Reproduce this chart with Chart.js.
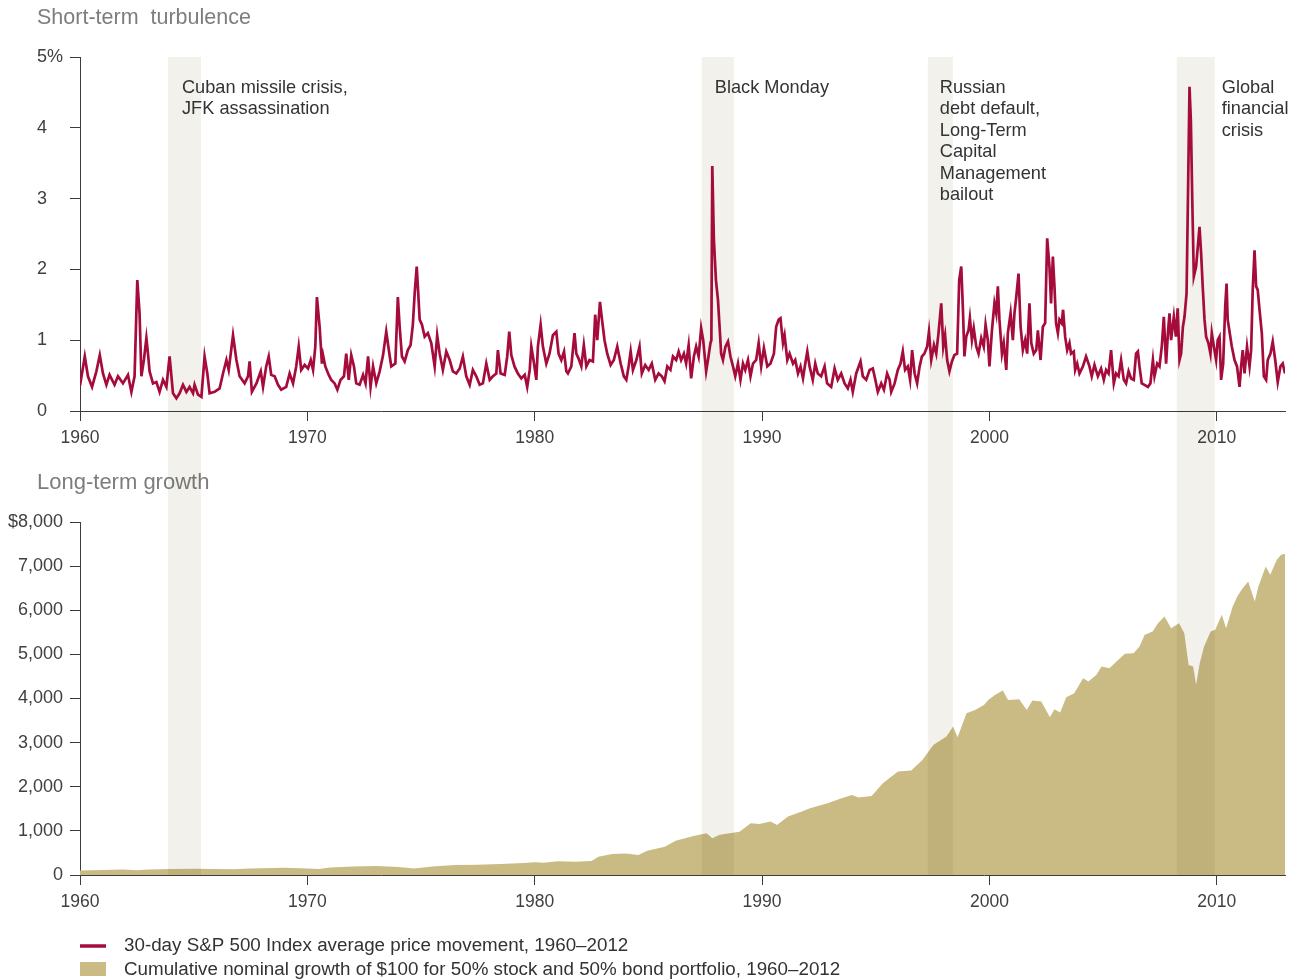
<!DOCTYPE html>
<html>
<head>
<meta charset="utf-8">
<script src="https://cdn.jsdelivr.net/npm/chart.js@4.4.1/dist/chart.umd.min.js"></script>
<style>
  html, body { margin: 0; padding: 0; background: #ffffff; }
  #wrap { position: relative; width: 1291px; height: 979px; }
  canvas { position: absolute; left: 0; }
  #topChart { top: 0; }
  #bottomChart { top: 470px; }
</style>
</head>
<body>
<div id="wrap">
  <canvas id="topChart" width="1291" height="470"></canvas>
  <canvas id="bottomChart" width="1291" height="509"></canvas>
</div>
<script>
// ─────────────────────────────────────────
// DATA
// ─────────────────────────────────────────

const xTickYears = [1960, 1970, 1980, 1990, 2000, 2010];
const turbTicks  = [0, 1, 2, 3, 4, 5];
const growthTicks = [0, 1000, 2000, 3000, 4000, 5000, 6000, 7000, 8000];

// crisis bands (start / end year) and their notes
const eventStart  = [1963.87, 1987.35, 1997.29, 2008.24];
const eventEnd    = [1965.32, 1988.76, 1998.39, 2009.91];
const eventLabels = [
  ["Cuban missile crisis,", "JFK assassination"],
  ["Black Monday"],
  ["Russian", "debt default,", "Long-Term", "Capital", "Management", "bailout"],
  ["Global", "financial", "crisis"]
];

const legendLabels = [
  "30-day S&P 500 Index average price movement, 1960–2012",
  "Cumulative nominal growth of $100 for 50% stock and 50% bond portfolio, 1960–2012"
];

// 30-day S&P 500 average price movement (%)
const turbYears = [
  1960.00, 1960.21, 1960.35, 1960.53, 1960.72, 1960.87, 1961.01, 1961.16, 1961.30, 1961.52,
  1961.67, 1961.89, 1962.11, 1962.26, 1962.40, 1962.52, 1962.62, 1962.70, 1962.81, 1962.92,
  1962.99, 1963.06, 1963.21, 1963.36, 1963.50, 1963.65, 1963.80, 1963.94, 1964.09, 1964.24,
  1964.38, 1964.53, 1964.68, 1964.82, 1964.97, 1965.04, 1965.19, 1965.34, 1965.48, 1965.60,
  1965.70, 1965.92, 1966.14, 1966.29, 1966.44, 1966.54, 1966.63, 1966.73, 1966.88, 1967.02,
  1967.24, 1967.39, 1967.46, 1967.56, 1967.76, 1967.95, 1968.05, 1968.19, 1968.30, 1968.41,
  1968.56, 1968.71, 1968.85, 1969.07, 1969.22, 1969.37, 1969.51, 1969.62, 1969.73, 1969.88,
  1970.03, 1970.15, 1970.25, 1970.35, 1970.42, 1970.54, 1970.64,
  1970.69, 1970.79, 1970.94, 1971.05, 1971.20, 1971.32, 1971.46, 1971.61, 1971.71, 1971.82,
  1971.93, 1972.05, 1972.15, 1972.30, 1972.45, 1972.56, 1972.67, 1972.78, 1972.89, 1973.03,
  1973.18, 1973.33, 1973.47, 1973.57, 1973.69, 1973.87, 1973.98, 1974.06, 1974.16, 1974.28,
  1974.42, 1974.54, 1974.64, 1974.72, 1974.81, 1974.86, 1974.94, 1975.04, 1975.16, 1975.30,
  1975.45, 1975.60, 1975.71, 1975.82, 1975.96, 1976.11, 1976.26, 1976.40, 1976.55, 1976.70,
  1976.84, 1976.99, 1977.14, 1977.28, 1977.43, 1977.58, 1977.72, 1977.87, 1978.02, 1978.16,
  1978.31, 1978.38, 1978.50, 1978.68, 1978.79, 1978.88, 1978.97, 1979.11, 1979.26, 1979.41,
  1979.56, 1979.67, 1979.78, 1979.85, 1979.97, 1980.07, 1980.14, 1980.26, 1980.36, 1980.51,
  1980.65, 1980.80, 1980.95, 1981.05, 1981.17, 1981.29, 1981.39,
  1981.46, 1981.61, 1981.75, 1981.83, 1981.93, 1982.05, 1982.16, 1982.27, 1982.41, 1982.56,
  1982.66, 1982.75, 1982.87, 1982.96, 1983.07, 1983.19, 1983.34, 1983.48, 1983.63, 1983.78,
  1983.92, 1984.03, 1984.13, 1984.22, 1984.32, 1984.47, 1984.61, 1984.71, 1984.86, 1985.01,
  1985.15, 1985.30, 1985.45, 1985.59, 1985.71, 1985.83, 1985.97, 1986.08, 1986.22, 1986.33,
  1986.44, 1986.56, 1986.66, 1986.77, 1986.88, 1987.00, 1987.10, 1987.21, 1987.32, 1987.41,
  1987.54, 1987.62, 1987.73, 1987.77, 1987.81, 1987.88, 1987.97, 1988.06, 1988.14, 1988.20,
  1988.28, 1988.39, 1988.50, 1988.61, 1988.72, 1988.82, 1988.94, 1989.05, 1989.16, 1989.26,
  1989.38, 1989.49, 1989.60, 1989.74, 1989.85, 1989.96, 1990.08, 1990.23, 1990.37, 1990.52,
  1990.62, 1990.73, 1990.81, 1990.92, 1990.99, 1991.11, 1991.21, 1991.36, 1991.46, 1991.58,
  1991.69, 1991.80, 1991.90, 1991.99,
  1992.09, 1992.23, 1992.34, 1992.45, 1992.60, 1992.75, 1992.86, 1993.04, 1993.19, 1993.33,
  1993.48, 1993.63, 1993.77, 1993.89, 1993.99, 1994.14, 1994.33, 1994.43, 1994.58, 1994.73,
  1994.87, 1994.97, 1995.09, 1995.24, 1995.36, 1995.50, 1995.61, 1995.68, 1995.83, 1995.97,
  1996.09, 1996.19, 1996.29, 1996.41, 1996.51, 1996.60, 1996.71, 1996.82, 1996.93, 1997.03,
  1997.14, 1997.26, 1997.34, 1997.44, 1997.56, 1997.66, 1997.76, 1997.88, 1997.97, 1998.05,
  1998.14, 1998.24, 1998.35, 1998.46, 1998.58, 1998.67, 1998.76, 1998.83, 1998.90, 1998.98,
  1999.08, 1999.14, 1999.23, 1999.31, 1999.42, 1999.52, 1999.64, 1999.75, 1999.83, 1999.93,
  2000.00, 2000.11, 2000.22, 2000.30, 2000.37, 2000.44, 2000.55, 2000.63, 2000.74, 2000.81,
  2000.93, 2001.03, 2001.10, 2001.18, 2001.28, 2001.37, 2001.47, 2001.57, 2001.66, 2001.76,
  2001.84, 2001.95, 2002.06, 2002.13, 2002.25, 2002.35, 2002.45, 2002.54,
  2002.64, 2002.71, 2002.79, 2002.86, 2002.93, 2003.01, 2003.08, 2003.18, 2003.24, 2003.33,
  2003.42, 2003.52, 2003.59, 2003.71, 2003.77, 2003.86, 2003.96, 2004.11, 2004.25, 2004.40,
  2004.50, 2004.62, 2004.77, 2004.91, 2005.03, 2005.13, 2005.24, 2005.35, 2005.47, 2005.57,
  2005.68, 2005.79, 2005.91, 2006.01, 2006.12, 2006.23, 2006.35, 2006.45, 2006.53, 2006.60,
  2006.70, 2006.82, 2006.97, 2007.08, 2007.19, 2007.26, 2007.38, 2007.48, 2007.58, 2007.67,
  2007.77, 2007.85, 2007.92, 2007.99, 2008.11, 2008.20, 2008.28, 2008.36, 2008.43, 2008.51,
  2008.58, 2008.67, 2008.74, 2008.80, 2008.86, 2008.92, 2008.99, 2009.09, 2009.24, 2009.31,
  2009.38, 2009.46, 2009.53, 2009.63, 2009.72, 2009.78, 2009.87, 2009.97, 2010.04, 2010.12,
  2010.19, 2010.28, 2010.37, 2010.43, 2010.48, 2010.57, 2010.66, 2010.78, 2010.89, 2011.00,
  2011.07, 2011.14, 2011.22, 2011.33, 2011.44, 2011.51, 2011.58, 2011.66, 2011.73, 2011.80,
  2011.88, 2011.98, 2012.07, 2012.17, 2012.24, 2012.36, 2012.46, 2012.57, 2012.68, 2012.80,
  2012.90, 2013.00
];
const turbValues = [
  0.36, 0.77, 0.49, 0.34, 0.56, 0.79, 0.53, 0.37, 0.51, 0.37,
  0.49, 0.39, 0.51, 0.27, 0.49, 1.85, 1.38, 0.49, 0.72, 1.03,
  0.81, 0.56, 0.39, 0.41, 0.27, 0.44, 0.34, 0.77, 0.25, 0.18,
  0.25, 0.37, 0.27, 0.34, 0.25, 0.37, 0.23, 0.20, 0.77, 0.53,
  0.25, 0.27, 0.32, 0.53, 0.72, 0.58, 0.81, 1.07, 0.72, 0.49,
  0.39, 0.49, 0.70, 0.27, 0.39, 0.56, 0.34, 0.63, 0.77, 0.51,
  0.49, 0.37, 0.30, 0.34, 0.53, 0.39, 0.63, 0.91, 0.58, 0.65,
  0.60, 0.72, 0.58, 0.91, 1.61, 1.19, 0.67,
  0.79, 0.63, 0.51, 0.44, 0.39, 0.30, 0.44, 0.49, 0.81, 0.44,
  0.79, 0.63, 0.39, 0.37, 0.51, 0.39, 0.77, 0.34, 0.63, 0.39,
  0.56, 0.79, 1.12, 0.89, 0.63, 0.67, 1.61, 1.19, 0.77, 0.70,
  0.86, 0.93, 1.22, 1.66, 2.04, 1.76, 1.29, 1.22, 1.05, 1.10,
  0.96, 0.63, 1.07, 0.81, 0.58, 0.84, 0.72, 0.56, 0.53, 0.60,
  0.77, 0.49, 0.37, 0.58, 0.49, 0.37, 0.39, 0.67, 0.44, 0.49,
  0.53, 0.86, 0.53, 0.51, 0.77, 1.12, 0.79, 0.63, 0.53, 0.46,
  0.51, 0.34, 0.58, 0.91, 0.67, 0.44, 0.91, 1.22, 0.91, 0.67,
  0.81, 1.07, 1.12, 0.81, 0.72, 0.84, 0.56,
  0.53, 0.63, 1.10, 0.81, 0.74, 0.63, 0.93, 0.63, 0.72, 0.70,
  1.36, 1.00, 1.54, 1.29, 1.00, 0.81, 0.65, 0.72, 0.91, 0.67,
  0.49, 0.44, 0.63, 0.84, 0.58, 0.72, 0.91, 0.53, 0.65, 0.58,
  0.67, 0.44, 0.53, 0.49, 0.42, 0.63, 0.58, 0.77, 0.72, 0.84,
  0.72, 0.81, 0.67, 0.93, 0.46, 0.77, 0.91, 0.77, 1.17, 1.00,
  0.56, 0.72, 0.96, 1.00, 3.46, 2.42, 1.85, 1.57, 1.14, 0.81,
  0.72, 0.91, 0.98, 0.77, 0.63, 0.49, 0.67, 0.44, 0.67, 0.58,
  0.72, 0.49, 0.67, 0.72, 0.96, 0.63, 0.89, 0.63, 0.67, 0.81,
  1.19, 1.29, 1.31, 0.96, 1.07, 0.72, 0.81, 0.67, 0.72, 0.53,
  0.63, 0.46, 0.67, 0.84,
  0.63, 0.44, 0.67, 0.53, 0.49, 0.63, 0.39, 0.34, 0.60, 0.44,
  0.53, 0.39, 0.32, 0.44, 0.27, 0.53, 0.70, 0.49, 0.44, 0.58,
  0.60, 0.46, 0.27, 0.39, 0.30, 0.53, 0.44, 0.27, 0.39, 0.58,
  0.67, 0.84, 0.58, 0.63, 0.44, 0.86, 0.53, 0.39, 0.63, 0.77,
  0.81, 0.91, 1.12, 0.72, 0.93, 0.81, 1.10, 1.52, 0.91, 1.07,
  0.72, 0.56, 0.70, 0.79, 0.81, 1.85, 2.04, 1.47, 0.77, 1.05,
  1.14, 1.31, 1.00, 1.17, 0.91, 0.81, 1.03, 0.91, 1.22, 1.00,
  0.63, 1.14, 1.52, 1.38, 1.76, 1.29, 0.81, 0.96, 0.58, 1.10,
  1.38, 1.00, 1.38, 1.61, 1.94, 1.19, 0.86, 1.00, 0.81, 1.52,
  0.96, 0.81, 0.86, 1.14, 0.72, 1.19, 1.24, 2.44,
  2.04, 1.52, 2.18, 1.76, 1.24, 1.10, 1.29, 1.24, 1.43, 1.05,
  0.86, 0.96, 0.81, 0.84, 0.58, 0.67, 0.53, 0.63, 0.77, 0.63,
  0.49, 0.65, 0.49, 0.60, 0.44, 0.58, 0.53, 0.86, 0.39, 0.53,
  0.49, 0.72, 0.44, 0.39, 0.56, 0.46, 0.44, 0.81, 0.84, 0.63,
  0.39, 0.37, 0.34, 0.39, 0.72, 0.49, 0.67, 0.63, 0.91, 1.33,
  0.67, 1.10, 1.38, 1.00, 1.33, 1.05, 1.45, 0.72, 0.81, 1.19,
  1.33, 1.66, 3.20, 4.58, 4.10, 3.00, 1.90, 2.04, 2.60, 2.23,
  1.76, 1.29, 1.05, 0.96, 0.81, 1.10, 0.91, 0.72, 1.00, 1.05,
  0.44, 0.67, 1.47, 1.80, 1.29, 1.10, 0.91, 0.72, 0.63, 0.34,
  0.63, 0.86, 0.53, 0.91, 0.63, 0.86, 1.71, 2.27, 1.76, 1.71,
  1.43, 1.10, 0.49, 0.44, 0.72, 0.81, 0.98, 0.72, 0.41, 0.63,
  0.67, 0.53
];

// cumulative growth of $100, 50/50 portfolio ($)
const growthYears = [
  1960.0, 1961.0, 1961.9, 1962.5, 1963.0, 1964.0, 1965.0, 1966.0, 1966.7, 1967.5,
  1968.5, 1969.0, 1970.0, 1970.5, 1971.0, 1972.0, 1973.0, 1974.0, 1974.7, 1975.5,
  1976.5, 1977.5, 1978.5, 1979.5, 1980.0, 1980.4, 1981.0, 1981.8, 1982.5, 1982.8,
  1983.4, 1984.0, 1984.56, 1984.95, 1985.72, 1986.2, 1986.98, 1987.56, 1987.81, 1988.14,
  1989.01, 1989.5, 1989.88, 1990.37, 1990.66, 1991.14, 1991.72, 1992.11, 1992.88, 1993.37,
  1993.95, 1994.24, 1994.82, 1995.31, 1995.98, 1996.56, 1997.05, 1997.53, 1998.11, 1998.40,
  1998.60, 1998.99, 1999.37, 1999.76, 1999.95, 2000.24, 2000.59, 2000.82, 2001.31, 2001.64,
  2001.89, 2002.28, 2002.66, 2002.86, 2003.11, 2003.38, 2003.73, 2004.12, 2004.35, 2004.70,
  2004.93, 2005.28, 2005.67, 2005.96, 2006.34, 2006.60, 2006.83, 2007.18, 2007.41, 2007.70,
  2007.99, 2008.34, 2008.57, 2008.76, 2008.96, 2009.09, 2009.25, 2009.44, 2009.73, 2009.93,
  2010.22, 2010.41, 2010.70, 2010.90, 2011.09, 2011.38, 2011.67, 2011.83, 2012.15, 2012.35,
  2012.64, 2012.83, 2013.00
];
const growthValues = [
  100, 112, 125, 108, 122, 135, 142, 135, 128, 148,
  158, 162, 145, 138, 168, 190, 205, 180, 150, 195,
  225, 235, 250, 270, 290, 275, 310, 300, 320, 415,
  476, 490, 454, 551, 642, 778, 884, 945, 832, 915,
  983, 1172, 1157, 1210, 1134, 1323, 1436, 1512, 1625, 1716,
  1814, 1754, 1792, 2079, 2343, 2366, 2608, 2948, 3137, 3364,
  3122, 3666, 3742, 3855, 3968, 4082, 4180, 3968, 3983, 3742,
  3953, 3930, 3575, 3757, 3681, 4029, 4120, 4460, 4384, 4535,
  4724, 4687, 4876, 5012, 5027, 5178, 5443, 5518, 5707, 5858,
  5594, 5707, 5480, 4762, 4724, 4309, 4800, 5178, 5518, 5556,
  5896, 5594, 6085, 6311, 6462, 6651, 6198, 6538, 6992, 6803,
  7143, 7256, 7280
];

// ─────────────────────────────────────────
// STYLE
// ─────────────────────────────────────────

const FONT      = "'Liberation Sans', Arial, sans-serif";
const RED       = "#A50B3B";
const TAN       = "#C9BB83";
const BAND      = "#F2F1EC";
const AXIS      = "#3c3c3c";
const TICK_TEXT = "#404040";
const TITLE     = "#7d7d7d";

// where each note sits next to its band: [edge, px offset]
const labelAnchor = [["start", 14], ["start", 13], ["start", 12], ["end", 7]];

Chart.defaults.font.family = FONT;
Chart.defaults.animation = false;

function paintBands(chart, fromCanvasTop, toCanvasBottom) {
  const { ctx, chartArea, scales: { x } } = chart;
  const top    = fromCanvasTop ? 0 : chartArea.top;
  const bottom = toCanvasBottom ? chart.height : chartArea.bottom;
  ctx.save();
  ctx.globalCompositeOperation = "multiply";
  ctx.fillStyle = BAND;
  eventStart.forEach((s, i) => {
    const x0 = x.getPixelForValue(s);
    const x1 = x.getPixelForValue(eventEnd[i]);
    ctx.fillRect(x0, top, x1 - x0, bottom - top);
  });
  ctx.restore();
}

function xAxis() {
  return {
    type: "linear",
    min: 1960,
    max: 2013,
    afterBuildTicks: s => { s.ticks = xTickYears.map(v => ({ value: v })); },
    afterFit: s => { s.height = 40; },
    border: { color: AXIS, width: 1 },
    grid: { drawOnChartArea: false, drawTicks: true, tickLength: 10, color: AXIS },
    ticks: { color: TICK_TEXT, font: { size: 17.5 }, padding: 7, maxRotation: 0,
             callback: v => String(v) }
  };
}

// ─────────────────────────────────────────
// SHORT-TERM TURBULENCE
// ─────────────────────────────────────────

new Chart(document.getElementById("topChart"), {
  type: "line",
  data: {
    datasets: [{
      label: legendLabels[0],
      data: turbYears.map((yr, i) => ({ x: yr, y: turbValues[i] })),
      borderColor: RED,
      borderWidth: 2.7,
      pointRadius: 0,
      tension: 0,
      fill: false
    }]
  },
  options: {
    responsive: false,
    devicePixelRatio: 1,
    layout: { padding: { top: 57, right: 6, left: 37, bottom: 19 } },
    plugins: { legend: { display: false }, tooltip: { enabled: false } },
    scales: {
      x: xAxis(),
      y: {
        min: 0, max: 5,
        afterBuildTicks: s => { s.ticks = turbTicks.map(v => ({ value: v })); },
        afterFit: s => { s.width = 43; },
        border: { color: AXIS, width: 1 },
        grid: { drawOnChartArea: false, drawTicks: true, tickLength: 10, color: AXIS },
        ticks: { color: TICK_TEXT, font: { size: 18 }, crossAlign: "far",
                 callback: v => v === 5 ? "5%" : String(v) }
      }
    }
  },
  plugins: [{
    id: "topDecor",
    beforeDatasetsDraw(chart) { paintBands(chart, false, true); },
    afterDraw(chart) {
      const { ctx, scales: { x } } = chart;
      ctx.save();
      ctx.textBaseline = "middle";
      ctx.textAlign = "left";
      ctx.fillStyle = TITLE;
      ctx.font = "21.5px " + FONT;
      ctx.fillText("Short-term  turbulence", 37, 18);

      ctx.fillStyle = "#333333";
      ctx.font = "18.2px " + FONT;
      eventLabels.forEach((lines, i) => {
        const [edge, dx] = labelAnchor[i];
        const bx = x.getPixelForValue(edge === "start" ? eventStart[i] : eventEnd[i]) + dx;
        lines.forEach((t, j) => ctx.fillText(t, bx, 87.5 + j * 21.5));
      });
      ctx.restore();
    }
  }]
});

// ─────────────────────────────────────────
// LONG-TERM GROWTH
// ─────────────────────────────────────────

new Chart(document.getElementById("bottomChart"), {
  type: "line",
  data: {
    datasets: [{
      label: legendLabels[1],
      data: growthYears.map((yr, i) => ({ x: yr, y: growthValues[i] })),
      borderWidth: 0,
      borderColor: TAN,
      backgroundColor: TAN,
      pointRadius: 0,
      tension: 0,
      fill: "origin"
    }]
  },
  options: {
    responsive: false,
    devicePixelRatio: 1,
    layout: { padding: { top: 52, right: 6, left: 0, bottom: 64 } },
    plugins: { legend: { display: false }, tooltip: { enabled: false } },
    scales: {
      x: xAxis(),
      y: {
        min: 0, max: 8000,
        afterBuildTicks: s => { s.ticks = growthTicks.map(v => ({ value: v })); },
        afterFit: s => { s.width = 80; },
        border: { color: AXIS, width: 1 },
        grid: { drawOnChartArea: false, drawTicks: true, tickLength: 10, color: AXIS },
        ticks: { color: TICK_TEXT, font: { size: 18 }, padding: 7, crossAlign: "near",
                 callback: v => v === 8000 ? "$8,000" : v.toLocaleString("en-US") }
      }
    }
  },
  plugins: [{
    id: "bottomDecor",
    beforeDraw(chart) {
      const ctx = chart.ctx;
      ctx.save();
      ctx.textBaseline = "middle";
      ctx.fillStyle = TITLE;
      ctx.font = "22px " + FONT;
      ctx.fillText("Long-term growth", 37, 12.5);
      ctx.restore();
    },
    afterDatasetsDraw(chart) { paintBands(chart, true, false); },
    afterDraw(chart) {
      const ctx = chart.ctx;
      ctx.save();
      // line swatch
      ctx.strokeStyle = RED;
      ctx.lineWidth = 3.5;
      ctx.beginPath();
      ctx.moveTo(80, 476);
      ctx.lineTo(106, 476);
      ctx.stroke();
      // area swatch
      ctx.fillStyle = TAN;
      ctx.fillRect(80, 492, 26, 14);

      ctx.fillStyle = "#333333";
      ctx.font = "18.8px " + FONT;
      ctx.textBaseline = "middle";
      ctx.fillText(legendLabels[0], 124, 476);
      ctx.fillText(legendLabels[1], 124, 500);
      ctx.restore();
    }
  }]
});
</script>
</body>
</html>
